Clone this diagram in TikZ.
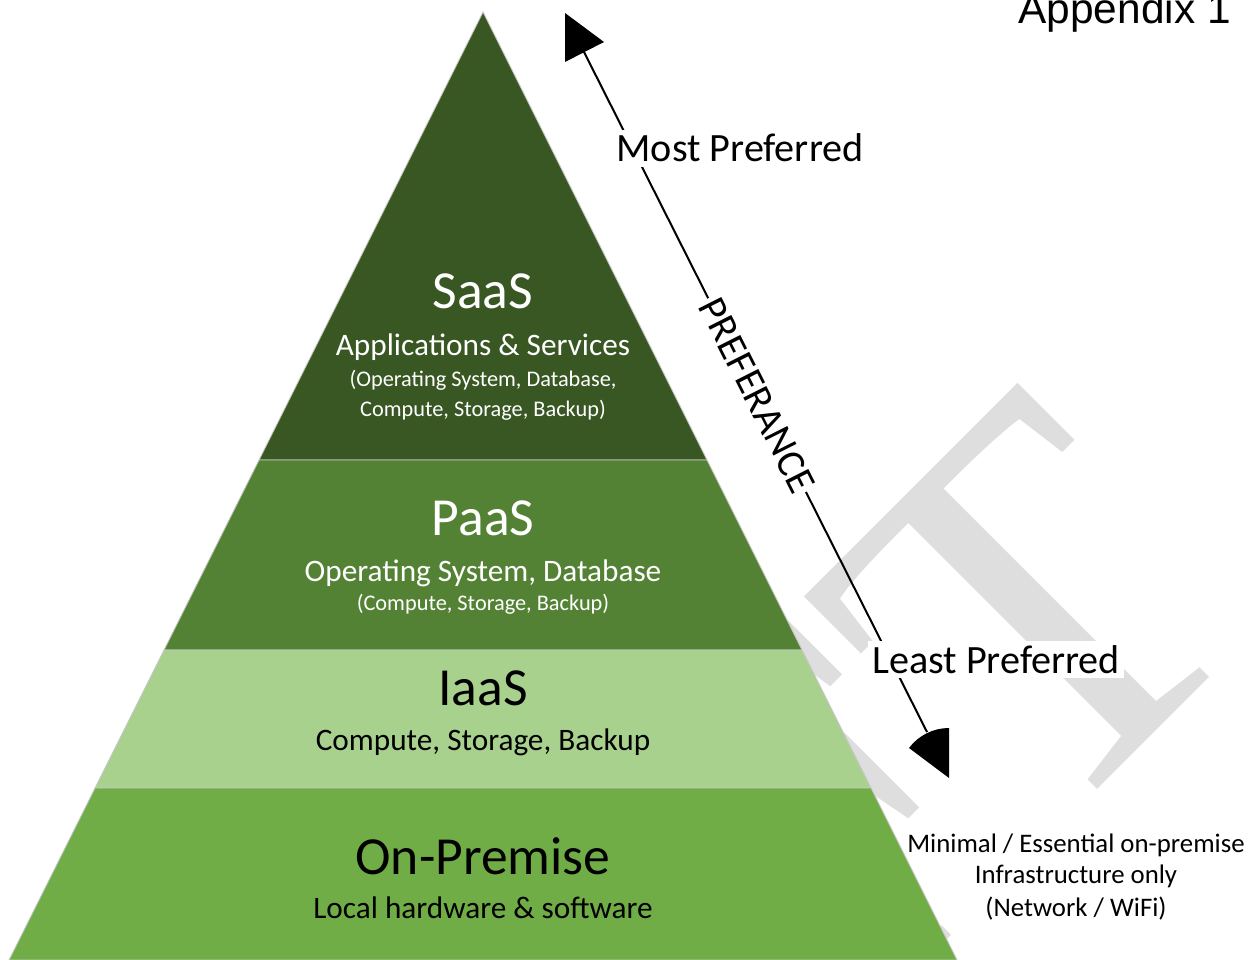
\documentclass[tikz,border=0pt]{standalone}
\usepackage{fontspec}
\setmainfont{Carlito}
\newfontfamily\arialfont{Liberation Sans}
\newfontfamily\draftfont{Liberation Serif}
\definecolor{saasgreen}{HTML}{385723}
\definecolor{paasgreen}{HTML}{548235}
\definecolor{iaasgreen}{HTML}{A9D18E}
\definecolor{premgreen}{HTML}{70AD47}
\definecolor{draftgray}{HTML}{DEDEDE}
\tikzstyle{every node}=[inner sep=0pt]
\tikzstyle{layer}=[draw=black!22,line width=0.4pt]
\tikzstyle{layertitle}=[anchor=base,font=\fontsize{24}{24}\selectfont]
\tikzstyle{layerbody}=[anchor=base,font=\fontsize{14}{14}\selectfont]
\tikzstyle{layernote}=[anchor=base,font=\fontsize{10}{10}\selectfont]
\tikzstyle{onwhite}=[text=white]
\tikzstyle{preflabel}=[anchor=base,fill=white,inner sep=2pt,font=\fontsize{18}{18}\selectfont]
\tikzstyle{preftext}=[fill=white,inner sep=1pt,font=\fontsize{18}{18}\selectfont]
\tikzstyle{prefline}=[line width=0.9pt]
\tikzstyle{sidenote}=[anchor=base,font=\fontsize{12}{12}\selectfont]
\tikzstyle{watermark}=[anchor=base east,rotate=45,text=draftgray,
  font=\draftfont\fontsize{235}{235}\selectfont]

\begin{document}
\begin{tikzpicture}[x=0.448pt,y=-0.448pt]
  \useasboundingbox (0,0) rectangle (1254,960);
  \clip (0,0) rectangle (1254,960);
  \node[watermark] (draft) at (1268,619) {DRAFT};

  % pyramid
  \filldraw[layer,fill=saasgreen] (483,12) -- (707,460) -- (259,460) -- cycle;
  \filldraw[layer,fill=paasgreen] (259,460) -- (707,460) -- (802,650) -- (164,650) -- cycle;
  \filldraw[layer,fill=iaasgreen] (164,650) -- (802,650) -- (871,788) -- (95,788) -- cycle;
  \filldraw[layer,fill=premgreen] (95,788) -- (871,788) -- (957,960) -- (9,960) -- cycle;

  \node[layertitle,onwhite] (saas) at (483,308) {SaaS};
  \node[layerbody,onwhite] (saasapps) at (483,355) {Applications \& Services};
  \node[layernote,onwhite] (saasnotea) at (483,386) {(Operating System, Database,};
  \node[layernote,onwhite] (saasnoteb) at (483,416) {Compute, Storage, Backup)};

  \node[layertitle,onwhite] (paas) at (483,535) {PaaS};
  \node[layerbody,onwhite] (paasos) at (483,581) {Operating System, Database};
  \node[layernote,onwhite] (paasnote) at (483,610) {(Compute, Storage, Backup)};

  \node[layertitle] (iaas) at (483,705) {IaaS};
  \node[layerbody] (iaascomp) at (483,750) {Compute, Storage, Backup};

  \node[layertitle] (prem) at (483,874) {On-Premise};
  \node[layerbody] (premlocal) at (483,918) {Local hardware \& software};

  % preference arrow
  \coordinate (mosttip) at (583,50);
  \coordinate (leasttip) at (927,732);
  \draw[prefline] (mosttip) -- node[preftext,sloped,pos=0.506] (prefer) {PREFERANCE} (leasttip);
  \fill (mosttip) ++(-18,-37) -- ++(0,49) -- ++(39,-20) -- cycle;
  \fill (leasttip) ++(22,46) -- ++(0,-50) arc[start angle=-90,end angle=-143.13,radius=50] -- cycle;
  \node[preflabel] (most) at (740,162) {Most Preferred};
  \node[preflabel] (least) at (996,673) {Least Preferred};

  \node[sidenote] (sidea) at (1076,852) {Minimal / Essential on-premise};
  \node[sidenote] (sideb) at (1076,883) {Infrastructure only};
  \node[sidenote] (sidec) at (1076,916) {(Network / WiFi)};

  \node[anchor=base west,font=\arialfont\fontsize{19}{19}\selectfont] (appendix) at (1018,24) {Appendix 1};
\end{tikzpicture}
\end{document}
